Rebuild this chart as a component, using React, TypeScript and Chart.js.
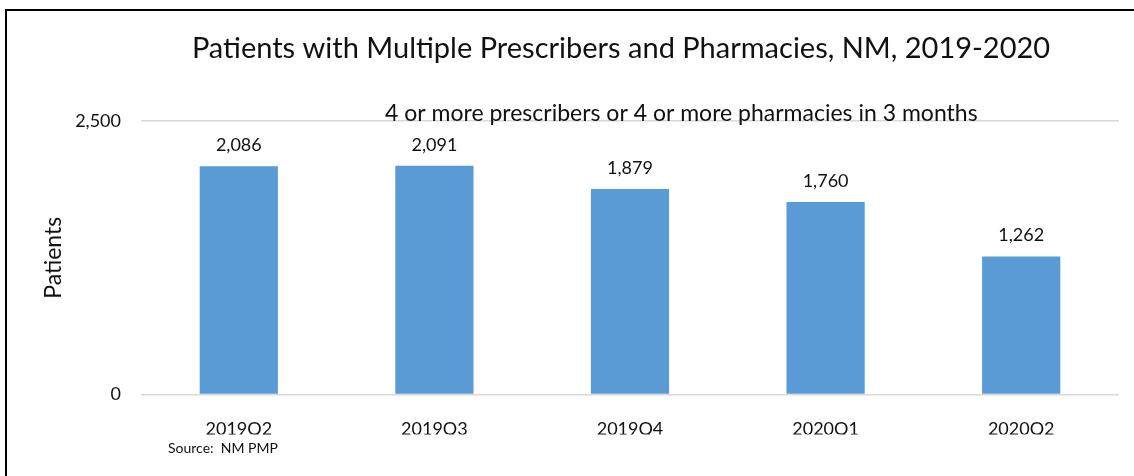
import React, { useEffect, useRef } from "react";
import { Chart, registerables } from "chart.js";

Chart.register(...registerables);

const categories = ["2019Q2", "2019Q3", "2019Q4", "2020Q1", "2020Q2"];
const patients = [2086, 2091, 1879, 1760, 1262];
const yTicks = [0, 2500];
const titleText = "Patients with Multiple Prescribers and Pharmacies, NM, 2019-2020";
const subtitleText = "4 or more prescribers or 4 or more pharmacies in 3 months";
const sourceText = "Source:  NM PMP";
const yAxisLabel = "Patients";

const FONT = "Lato, 'Open Sans', sans-serif";
const TEXT = "#111111";

const decorPlugin = {
  id: "decor",
  beforeDraw(chart: any) {
    const ctx = chart.ctx;
    ctx.save();
    ctx.fillStyle = "#ffffff";
    ctx.fillRect(0, 0, chart.width, chart.height);
    ctx.restore();
  },
  afterDraw(chart: any) {
    const ctx = chart.ctx;
    const area = chart.chartArea;
    ctx.save();
    // frame
    ctx.strokeStyle = "#000000";
    ctx.lineWidth = 2;
    ctx.beginPath();
    ctx.moveTo(6, chart.height + 2);
    ctx.lineTo(6, 10);
    ctx.lineTo(chart.width + 2, 10);
    ctx.stroke();

    ctx.fillStyle = TEXT;
    // title
    ctx.font = `29px ${FONT}`;
    ctx.textAlign = "center";
    ctx.textBaseline = "alphabetic";
    ctx.fillText(titleText, 621, 58);
    // subtitle
    ctx.font = `23px ${FONT}`;
    ctx.textAlign = "left";
    ctx.fillText(subtitleText, 385, 121);
    // source
    ctx.font = `14px ${FONT}`;
    ctx.fillText(sourceText, 168, 453);
    // y axis label
    ctx.save();
    ctx.translate(54, (area.top + area.bottom) / 2);
    ctx.rotate(-Math.PI / 2);
    ctx.font = `23px ${FONT}`;
    ctx.textAlign = "center";
    ctx.textBaseline = "middle";
    ctx.fillText(yAxisLabel, 0, 0);
    ctx.restore();

    // data labels
    const meta = chart.getDatasetMeta(0);
    ctx.font = `18px ${FONT}`;
    ctx.textAlign = "center";
    ctx.textBaseline = "alphabetic";
    meta.data.forEach((el: any, i: number) => {
      const v = chart.data.datasets[0].data[i] as number;
      ctx.fillText(v.toLocaleString("en-US"), el.x, el.y - 15);
    });
    ctx.restore();
  },
};

export default function App() {
  const ref = useRef<HTMLCanvasElement | null>(null);
  useEffect(() => {
    document.body.style.margin = "0";
    document.body.style.overflow = "hidden";
    if (!ref.current) return;
    const chart = new Chart(ref.current, {
      type: "bar",
      data: {
        labels: categories,
        datasets: [
          {
            data: patients,
            backgroundColor: "#5B9BD5",
            categoryPercentage: 1,
            barPercentage: 0.4,
          },
        ],
      },
      options: {
        animation: false,
        responsive: false,
        devicePixelRatio: 1,
        layout: { padding: { top: 121, left: 0, right: 15, bottom: 41.5 } },
        plugins: {
          legend: { display: false },
          tooltip: { enabled: false },
          title: { display: false },
        },
        scales: {
          x: {
            grid: { display: false, drawTicks: false },
            border: { display: false },
            ticks: {
              color: TEXT,
              font: { family: FONT, size: 18 },
              padding: 24,
            },
            afterFit: (s: any) => {
              s.height = 40;
            },
          },
          y: {
            min: 0,
            max: 2500,
            afterBuildTicks: (s: any) => {
              s.ticks = yTicks.map((v) => ({ value: v }));
            },
            grid: { color: "#D9D9D9", lineWidth: 1.5, drawTicks: false },
            border: { display: false },
            ticks: {
              color: TEXT,
              font: { family: FONT, size: 18 },
              padding: 20,
              callback: (v: any) => Number(v).toLocaleString("en-US"),
            },
            afterFit: (s: any) => {
              s.width = 141;
            },
          },
        },
      },
      plugins: [decorPlugin],
    });
    return () => chart.destroy();
  }, []);
  return (
    <div style={{ position: "fixed", left: 0, top: 0, width: 1134, height: 476 }}>
      <canvas ref={ref} width={1134} height={476} />
    </div>
  );
}
